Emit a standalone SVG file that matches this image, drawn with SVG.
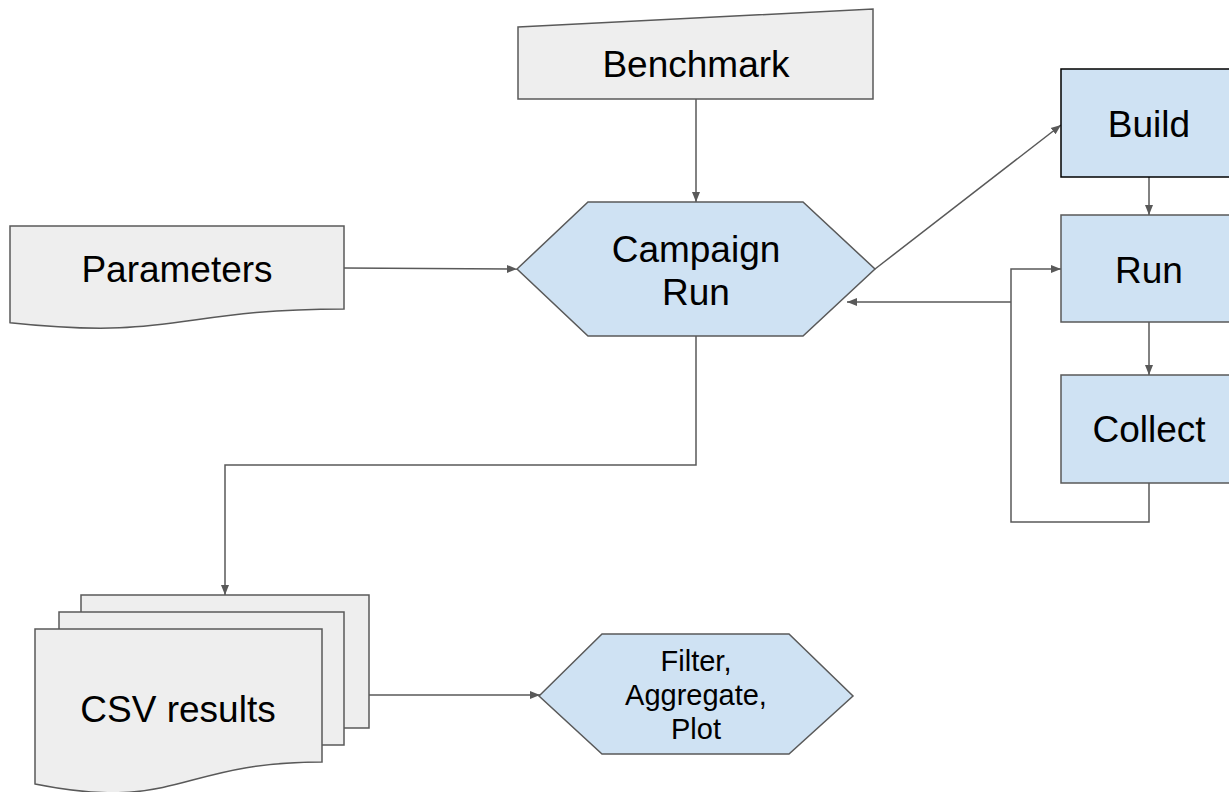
<svg xmlns="http://www.w3.org/2000/svg" width="1229" height="792" viewBox="0 0 1229 792">
<style>
.grey{fill:#eeeeee;stroke:#595959;stroke-width:1.5}
.blue{fill:#cfe2f3;stroke:#595959;stroke-width:1.5}
.blk{fill:#cfe2f3;stroke:#000000;stroke-width:1.5}
.t{font-family:"Liberation Sans",Arial,sans-serif;font-size:37px;fill:#000;text-anchor:middle}
.s{font-family:"Liberation Sans",Arial,sans-serif;font-size:29px;fill:#000;text-anchor:middle}
.c{fill:none;stroke:#595959;stroke-width:1.5}
</style>
<defs>
<marker id="ah" viewBox="0 0 10 10" refX="10" refY="5" markerWidth="10" markerHeight="10" markerUnits="userSpaceOnUse" orient="auto">
<path d="M0,1 L10,5 L0,9 Z" fill="#595959"/>
</marker>
</defs>
<rect width="1229" height="792" fill="#ffffff"/>
<g id="connectors">
<path class="c" d="M696,99 V202" marker-end="url(#ah)"/>
<path class="c" d="M344,268 L517,269" marker-end="url(#ah)"/>
<path class="c" d="M875,269 L1061,125" marker-end="url(#ah)"/>
<path class="c" d="M1149,177 V215" marker-end="url(#ah)"/>
<path class="c" d="M1149,322 V375" marker-end="url(#ah)"/>
<path class="c" d="M1149,483 V522 H1011 V269 H1061" marker-end="url(#ah)"/>
<path class="c" d="M1011,302 H847" marker-end="url(#ah)"/>
<path class="c" d="M696,336 V465 H225 V595" marker-end="url(#ah)"/>
<path class="c" d="M369,695 H540" marker-end="url(#ah)"/>
</g>
<g id="benchmark">
<polygon class="grey" points="518,27 873,9 873,99 518,99"/>
<text class="t" x="696" y="77">Benchmark</text>
</g>
<g id="parameters">
<path class="grey" d="M10,226 H344 V309 C177,309 177,340.6 10,322.7 Z"/>
<text class="t" x="177" y="282">Parameters</text>
</g>
<g id="campaign">
<polygon class="blue" points="517,269 588,202 803,202 875,269 803,336 588,336"/>
<text class="t" x="696" y="262">Campaign</text>
<text class="t" x="696" y="305">Run</text>
</g>
<g id="build">
<rect class="blk" x="1061" y="69" width="180" height="108"/>
<text class="t" x="1149" y="137">Build</text>
</g>
<g id="run">
<rect class="blue" x="1061" y="215" width="180" height="107"/>
<text class="t" x="1149" y="283">Run</text>
</g>
<g id="collect">
<rect class="blue" x="1061" y="375" width="180" height="108"/>
<text class="t" x="1149" y="442">Collect</text>
</g>
<g id="csv">
<rect class="grey" x="81" y="595" width="288" height="133"/>
<rect class="grey" x="59" y="612" width="285" height="133"/>
<path class="grey" d="M35,629 H322 V762 C178.5,762 178.5,812.8 35,784 Z"/>
<text class="t" x="178" y="722">CSV results</text>
</g>
<g id="filter">
<polygon class="blue" points="539,696 602,634 789,634 853,696 789,754 602,754"/>
<text class="s" x="696" y="671">Filter,</text>
<text class="s" x="696" y="705">Aggregate,</text>
<text class="s" x="696" y="739">Plot</text>
</g>
</svg>
